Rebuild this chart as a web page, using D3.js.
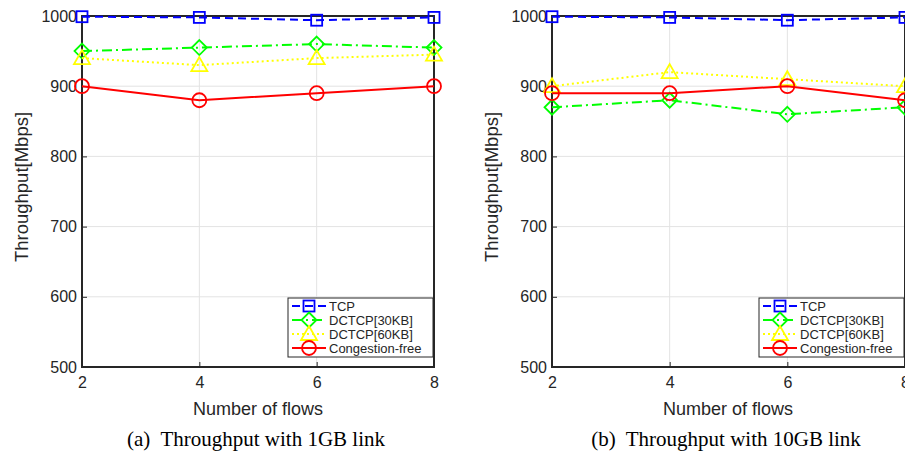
<!DOCTYPE html>
<html>
<head>
<meta charset="utf-8">
<script src="https://cdn.jsdelivr.net/npm/d3@7"></script>
<style>
  body { margin: 0; background: #fff; }
  svg text { font-family: "Liberation Sans", Arial, sans-serif; fill: #262626; }
  .caption { font-family: "Liberation Serif", "Times New Roman", serif; fill: #000; }
</style>
</head>
<body>
<div id="chart"></div>
<script>
const flows = [2, 4, 6, 8];
const yTicks = [500, 600, 700, 800, 900, 1000];
const seriesNames = ['TCP', 'DCTCP[30KB]', 'DCTCP[60KB]', 'Congestion-free'];

// 1GB link
const tcp1G = [999, 998, 994, 998];
const dctcp30_1G = [950, 955, 960, 955];
const dctcp60_1G = [940, 930, 940, 945];
const congFree1G = [900, 880, 890, 900];

// 10GB link
const tcp10G = [999, 998, 994, 998];
const dctcp30_10G = [870, 880, 860, 870];
const dctcp60_10G = [900, 920, 910, 900];
const congFree10G = [890, 890, 900, 880];

const panels = [
    { caption: '(a)\u00a0 Throughput with 1GB link', left: 82, width: 352, series: [tcp1G, dctcp30_1G, dctcp60_1G, congFree1G] },
    { caption: '(b)\u00a0 Throughput with 10GB link', left: 552, width: 353, series: [tcp10G, dctcp30_10G, dctcp60_10G, congFree10G] }
];

const styles = [
    { color: '#0000ff', dash: '8,5', marker: 'square' },
    { color: '#00ff00', dash: '10,4,2,4', marker: 'diamond' },
    { color: '#ffff00', dash: '2,3', marker: 'triangle' },
    { color: '#ff0000', dash: null, marker: 'circle' }
];

const W = 905, H = 456;
const plotTop = 16, plotBottom = 367;

const svg = d3.select('#chart')
    .append('svg')
        .attr('width', W)
        .attr('height', H);

const drawMarker = (g, type, color) => {
    if (type === 'square') {
        g.append('rect').attr('x', -5.5).attr('y', -5.5).attr('width', 11).attr('height', 11);
    } else if (type === 'diamond') {
        g.append('path').attr('d', 'M0,-7.5L7.5,0L0,7.5L-7.5,0Z');
    } else if (type === 'triangle') {
        g.append('path').attr('d', 'M0,-8L8,6L-8,6Z');
    } else {
        g.append('circle').attr('r', 7);
    }
    g.selectAll('*')
        .attr('fill', 'none')
        .attr('stroke', color)
        .attr('stroke-width', 1.8);
};

panels.forEach(p => {
    const x = d3.scaleLinear().domain([2, 8]).range([p.left, p.left + p.width]);
    const y = d3.scaleLinear().domain([500, 1000]).range([plotBottom, plotTop]);
    const g = svg.append('g');

    // grid
    g.selectAll('.vgrid')
        .data(flows.slice(1, -1))
        .enter()
        .append('line')
            .attr('x1', d => x(d)).attr('x2', d => x(d))
            .attr('y1', plotTop).attr('y2', plotBottom)
            .attr('stroke', '#e3e3e3').attr('stroke-width', 1);
    g.selectAll('.hgrid')
        .data(yTicks.slice(1, -1))
        .enter()
        .append('line')
            .attr('x1', p.left).attr('x2', p.left + p.width)
            .attr('y1', d => y(d)).attr('y2', d => y(d))
            .attr('stroke', '#e3e3e3').attr('stroke-width', 1);

    // axes, ticks pointing inward
    const xAxis = d3.axisBottom(x).tickValues(flows).tickSize(-5).tickPadding(10).tickFormat(d3.format('d'));
    const yAxis = d3.axisLeft(y).tickValues(yTicks).tickSize(-5).tickPadding(5).tickFormat(d3.format('d'));

    const xa = g.append('g').attr('transform', `translate(0,${plotBottom})`).call(xAxis);
    const ya = g.append('g').attr('transform', `translate(${p.left},0)`).call(yAxis);
    [xa, ya].forEach(a => {
        a.select('.domain').remove();
        a.selectAll('line').attr('stroke', '#262626').attr('stroke-width', 1);
        a.selectAll('text').attr('font-size', 16).attr('fill', '#262626');
    });

    // box
    g.append('rect')
        .attr('x', p.left).attr('y', plotTop)
        .attr('width', p.width).attr('height', plotBottom - plotTop)
        .attr('fill', 'none').attr('stroke', '#262626').attr('stroke-width', 2);

    // series
    const line = d3.line().x((d, i) => x(flows[i])).y(d => y(d));
    p.series.forEach((vals, si) => {
        const st = styles[si];
        g.append('path')
            .datum(vals)
            .attr('d', line)
            .attr('fill', 'none')
            .attr('stroke', st.color)
            .attr('stroke-width', 2)
            .attr('stroke-dasharray', st.dash);
        vals.forEach((v, i) => {
            drawMarker(g.append('g').attr('transform', `translate(${x(flows[i])},${y(v)})`), st.marker, st.color);
        });
    });

    // legend
    const lx = x(8) - 146, ly = 298;
    const lg = g.append('g').attr('transform', `translate(${lx},${ly})`);
    lg.append('rect')
        .attr('width', 145).attr('height', 59)
        .attr('fill', '#fff').attr('stroke', '#262626').attr('stroke-width', 1);
    seriesNames.forEach((name, si) => {
        const st = styles[si];
        const ry = 8 + si * 14;
        lg.append('line')
            .attr('x1', 4).attr('x2', 38)
            .attr('y1', ry).attr('y2', ry)
            .attr('stroke', st.color).attr('stroke-width', 2)
            .attr('stroke-dasharray', st.dash);
        drawMarker(lg.append('g').attr('transform', `translate(21,${ry})`), st.marker, st.color);
        lg.append('text')
            .attr('x', 41).attr('y', ry + 4.5)
            .attr('font-size', 13)
            .attr('fill', '#000')
            .text(name);
    });

    // labels
    g.append('text')
        .attr('x', p.left + 176).attr('y', 415)
        .attr('text-anchor', 'middle')
        .attr('font-size', 18)
        .text('Number of flows');
    g.append('text')
        .attr('transform', `translate(${p.left - 54},187) rotate(-90)`)
        .attr('text-anchor', 'middle')
        .attr('font-size', 18.5)
        .text('Throughput[Mbps]');
    g.append('text')
        .attr('class', 'caption')
        .attr('x', p.left + 174).attr('y', 446)
        .attr('text-anchor', 'middle')
        .attr('font-size', 21)
        .text(p.caption);
});
</script>
</body>
</html>
